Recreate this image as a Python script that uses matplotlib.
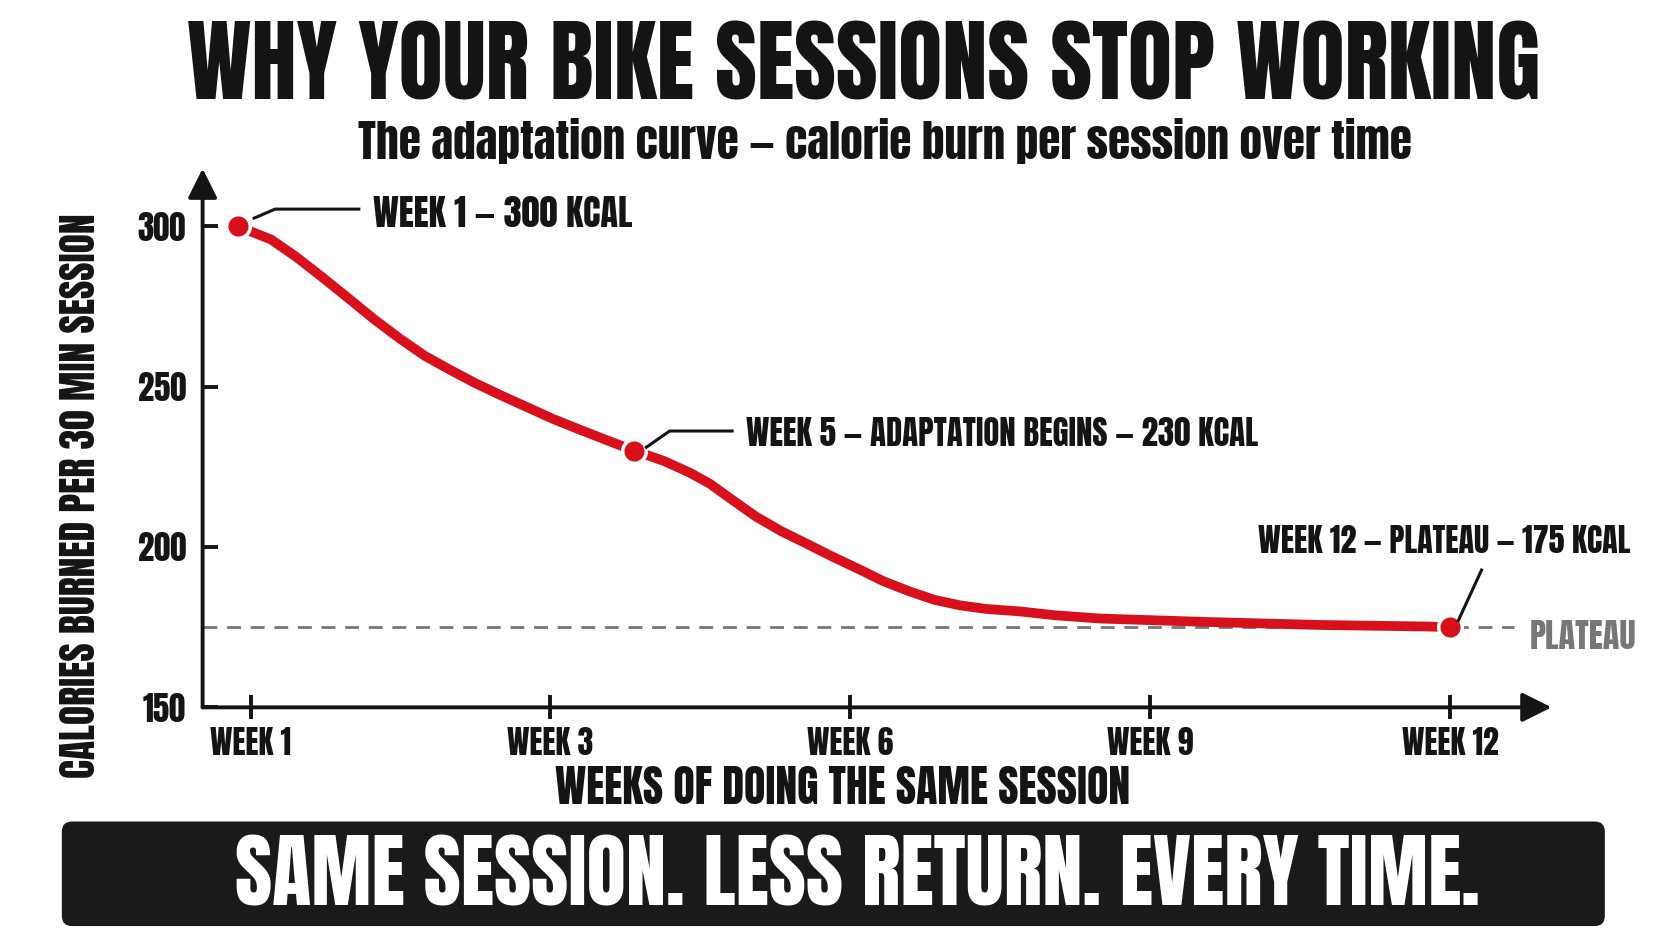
import matplotlib
matplotlib.use("Agg")
import matplotlib.pyplot as plt
from matplotlib.patches import FancyBboxPatch
from matplotlib.lines import Line2D

plt.rcParams['font.family'] = ['Anton', 'DejaVu Sans']
plt.rcParams['font.weight'] = 'normal'

RED = '#d8101c'
INK = '#141414'
GREY = '#777777'

# x axis: evenly spaced slots, one per labelled week
week_labels = ["WEEK 1", "WEEK 3", "WEEK 6", "WEEK 9", "WEEK 12"]
week_slots = [0, 1, 2, 3, 4]
cal_ticks = [150, 200, 250, 300]

# adaptation curve (x in slot units, y in kcal)
curve_x = [-0.043, 0.068, 0.153, 0.242, 0.327, 0.412, 0.496, 0.581, 0.666, 0.751,
           0.837, 0.922, 1.007, 1.092, 1.177, 1.280, 1.379, 1.464, 1.532, 1.600,
           1.685, 1.770, 1.855, 1.940, 2.026, 2.111, 2.196, 2.281, 2.366, 2.451,
           2.567, 2.684, 2.832, 3.196, 3.562, 3.926, 4.0]
curve_y = [300, 295.9, 290.4, 283.9, 277.5, 271.0, 265.1, 259.6, 255.2, 251.0,
           247.2, 243.6, 240.0, 236.8, 233.7, 230, 226.8, 223.2, 219.7, 215.1,
           209.5, 204.9, 201.0, 197.0, 193.2, 189.3, 186.2, 183.5, 181.8, 180.7,
           179.9, 178.7, 177.7, 176.6, 175.7, 175.2, 175]

key_x = [-0.043, 1.28, 4.0]
key_y = [300, 230, 175]
key_labels = ["WEEK 1 \u2014 300 KCAL",
              "WEEK 5 \u2014 ADAPTATION BEGINS \u2014 230 KCAL",
              "WEEK 12 \u2014 PLATEAU \u2014 175 KCAL"]
plateau = 175

W, H = 1672, 941
fig = plt.figure(figsize=(W / 100, H / 100), dpi=100)
fig.patch.set_facecolor('white')

# layout measured on a 1568 x 882 view of the reference
VW, VH = 1568.0, 882.0
def fx(x):
    return x / VW
def fy(y):
    return 1 - y / VH

ax = fig.add_axes([fx(190), fy(663), fx(1455) - fx(190), fy(158) - fy(663)])
ax.set_xlim(-0.16, 4.338)
ax.set_ylim(150, 318)
for s in ax.spines.values():
    s.set_visible(False)

# axes drawn as arrows
arrow = dict(arrowstyle='-|>,head_length=0.9,head_width=0.45', color=INK,
             lw=2.8, shrinkA=0, shrinkB=0, mutation_scale=20)
ax.annotate('', xy=(1, 0), xytext=(0, 0), xycoords='axes fraction',
            textcoords='axes fraction', arrowprops=arrow)
ax.annotate('', xy=(0, 1), xytext=(0, 0), xycoords='axes fraction',
            textcoords='axes fraction', arrowprops=arrow)

ax.set_xticks(week_slots)
ax.set_xticklabels(week_labels)
ax.set_yticks(cal_ticks)
ax.tick_params(axis='y', direction='in', length=11, width=2.8, color=INK,
               labelsize=25, pad=12, labelcolor=INK)
ax.tick_params(axis='x', direction='inout', length=17, width=2.8, color=INK,
               labelsize=19, pad=6, labelcolor=INK)

ax.axhline(plateau, xmin=0, xmax=0.972, color=GREY, lw=2.0, dashes=(5, 3.5), zorder=1)
ax.plot(curve_x, curve_y, color=RED, lw=7, solid_capstyle='round',
        solid_joinstyle='round', zorder=3)
ax.plot(key_x, key_y, 'o', ms=17, mfc=RED, mec='white', mew=2.5, zorder=4)

fig.canvas.draw()
rend = fig.canvas.get_renderer()

def scale_for(t, width_view, vertical=False):
    bb = t.get_window_extent(rend)
    w = bb.height if vertical else bb.width
    return width_view * W / VW / w

def fit(t, width_view, vertical=False):
    t.set_fontsize(t.get_fontsize() * scale_for(t, width_view, vertical))

# tick label sizes matched to the reference widths
ax.tick_params(axis='y', labelsize=25 * scale_for(ax.get_yticklabels()[3], 45))
ax.tick_params(axis='x', labelsize=19 * scale_for(ax.get_xticklabels()[0], 76))

# titles
t = fig.text(0.5165, fy(62), "WHY YOUR BIKE SESSIONS STOP WORKING", ha='center',
             va='center', color=INK, fontsize=50)
fit(t, 1267)
t = fig.text(fx(830), fy(132), "The adaptation curve \u2014 calorie burn per session over time",
             ha='center', va='center', color=INK, fontsize=30)
fit(t, 985)

# point callouts
pos = [(350, 200), (700, 406), (1180, 507)]
widths = [242, 478, 347]
for lab, (px, py), wv in zip(key_labels, pos, widths):
    t = fig.text(fx(px), fy(py), lab, ha='left', va='center', color=INK, fontsize=22)
    fit(t, wv)

connectors = [[(237, 205), (258, 196), (338, 196)],
              [(605, 420), (628, 404), (688, 404)],
              [(1367, 583), (1390, 533)]]
for c in connectors:
    fig.add_artist(Line2D([fx(p[0]) for p in c], [fy(p[1]) for p in c],
                          transform=fig.transFigure, color=INK, lw=2.2,
                          solid_capstyle='butt'))

t = fig.text(fx(1435), fy(597), "PLATEAU", ha='left', va='center', color=GREY, fontsize=24)
fit(t, 100)

# axis titles
t = fig.text(fx(790), fy(738), "WEEKS OF DOING THE SAME SESSION", ha='center',
             va='center', color=INK, fontsize=28)
fit(t, 540)
t = fig.text(fx(75), fy(465), "CALORIES BURNED PER 30 MIN SESSION", ha='center',
             va='center', rotation=90, color=INK, fontsize=26)
fit(t, 530, vertical=True)

# bottom banner
box = FancyBboxPatch((fx(58), fy(868)), fx(1505) - fx(58), fy(770) - fy(868),
                     boxstyle='round,pad=0,rounding_size=0.006',
                     mutation_aspect=W / H, transform=fig.transFigure,
                     facecolor='#1a1a1a', edgecolor='none')
fig.add_artist(box)
t = fig.text(fx(804), fy(821), "SAME SESSION. LESS RETURN. EVERY TIME.", ha='center',
             va='center', color='white', fontsize=50)
fit(t, 1165)

fig.savefig('out.png', dpi=100, facecolor='white')
